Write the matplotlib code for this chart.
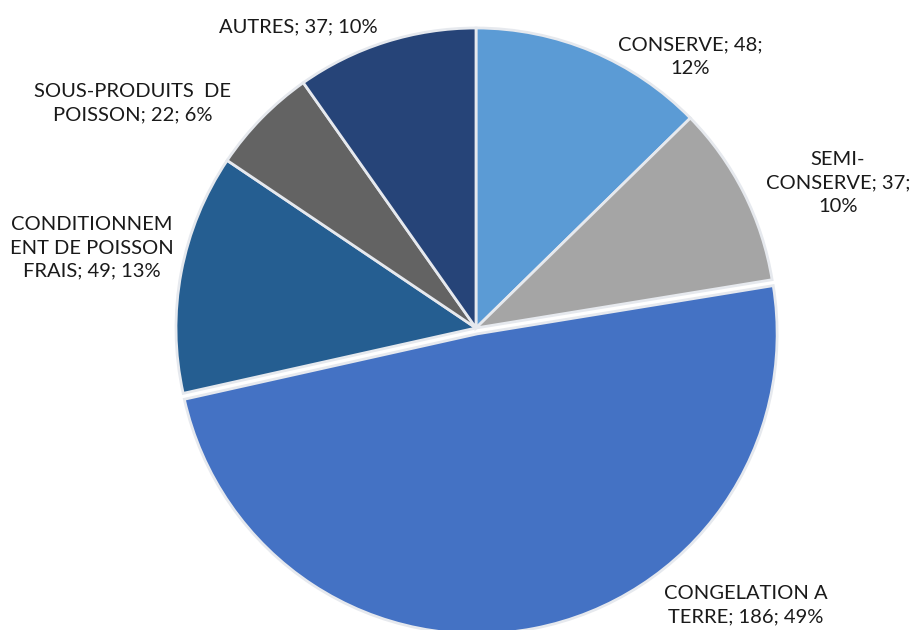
import matplotlib.pyplot as plt

# Répartition des unités par activité
categories = ["CONSERVE", "SEMI-CONSERVE", "CONGELATION A TERRE",
              "CONDITIONNEMENT DE POISSON FRAIS", "SOUS-PRODUITS DE POISSON", "AUTRES"]
values = [48, 37, 186, 49, 22, 37]
percents = [12, 10, 49, 13, 6, 10]
labels = [
    "CONSERVE; 48;\n12%",
    "SEMI-\nCONSERVE; 37;\n10%",
    "CONGELATION A\nTERRE; 186; 49%",
    "CONDITIONNEM\nENT DE POISSON\nFRAIS; 49; 13%",
    "SOUS-PRODUITS  DE\nPOISSON; 22; 6%",
    "AUTRES; 37; 10%",
]
colors = ["#5B9BD5", "#A5A5A5", "#4472C4", "#255E91", "#636363", "#264478"]

# label centres in pixel coordinates (y measured from the bottom)
label_pos = [(690, 573), (838, 447), (746, 25), (92, 382), (133, 527), (298, 603)]

fig = plt.figure(figsize=(9.18, 6.3), dpi=100)
ax = fig.add_axes([0, 0, 1, 1])
ax.set_xlim(0, 918)
ax.set_ylim(0, 630)
ax.axis("off")

explode = [0, 0, 6, 0, 0, 0]
ax.pie(values, colors=colors, startangle=90, counterclock=False,
       center=(476, 302), radius=300, explode=explode,
       wedgeprops=dict(edgecolor="#E6E9EE", linewidth=2))
ax.set_xlim(0, 918)
ax.set_ylim(0, 630)
ax.set_aspect("equal")

for text, (x, y) in zip(labels, label_pos):
    ax.text(x, y, text, ha="center", va="center", fontsize=14.5,
            family="Lato", color="#1a1a1a", linespacing=1.45)

fig.savefig("out.png", dpi=100)
